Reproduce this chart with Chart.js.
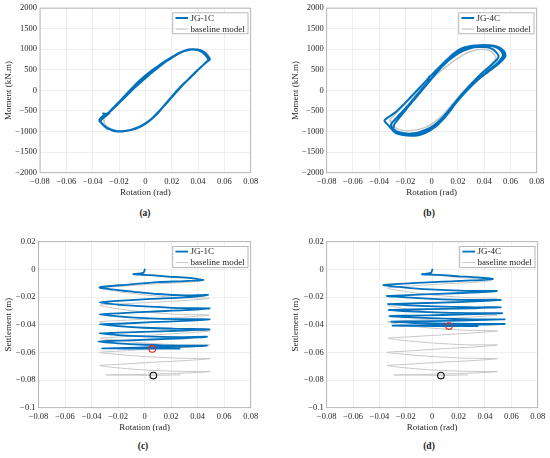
<!DOCTYPE html>
<html>
<head>
<meta charset="utf-8">
<script src="https://cdn.jsdelivr.net/npm/chart.js@4"></script>
<style>
  body { margin: 0; background: #fff; }
  #wrap { position: relative; width: 550px; height: 458px; overflow: hidden; }
  canvas { position: absolute; }
  .cap { position: absolute; font: bold 9.5px "Liberation Serif", serif; color: #222; transform: translate(-50%, -50%); }
</style>
</head>
<body>
<div id="wrap">
  <canvas id="pa" width="275" height="200" style="left:0;top:0"></canvas>
  <canvas id="pb" width="275" height="200" style="left:275px;top:0"></canvas>
  <canvas id="pc" width="275" height="210" style="left:0;top:225px"></canvas>
  <canvas id="pd" width="275" height="210" style="left:275px;top:225px"></canvas>
  <div class="cap" style="left:145px;top:213px">(a)</div>
  <div class="cap" style="left:429px;top:213px">(b)</div>
  <div class="cap" style="left:143px;top:446px">(c)</div>
  <div class="cap" style="left:429px;top:446px">(d)</div>
</div>
<script>
// tick values
const rotTicks = [-0.08, -0.06, -0.04, -0.02, 0, 0.02, 0.04, 0.06, 0.08];
const momentTicks = [-2000, -1500, -1000, -500, 0, 500, 1000, 1500, 2000];
const settleTicks = [-0.1, -0.08, -0.06, -0.04, -0.02, 0, 0.02];

// moment vs rotation, [rad, kN.m]
const jg1cMoment = [
  [-0.010,40],[-0.005,190],[0,330],[0.005,460],[0.010,580],[0.015,690],[0.020,790],[0.025,890],[0.030,960],[0.034,990],[0.038,985],[0.042,950],[0.045,880],[0.047,800],[0.048,740],
  [0.046,680],[0.042,560],[0.037,410],[0.032,250],[0.027,90],[0.022,-90],[0.017,-270],[0.012,-450],[0.007,-620],[0.002,-760],[-0.003,-860],[-0.008,-930],[-0.013,-975],[-0.018,-995],[-0.023,-985],[-0.027,-945],[-0.030,-900],[-0.029,-930],[-0.032,-840],[-0.034,-770],[-0.035,-720],[-0.033,-640],[-0.031,-600],[-0.032,-560],[-0.029,-570],
  [-0.025,-440],[-0.020,-280],[-0.015,-110],[-0.010,60],[-0.005,220],[0,360],[0.005,490],[0.010,600],[0.015,710],[0.020,810],[0.025,900],[0.030,965],[0.034,1000],[0.039,995],[0.043,960],[0.046,890],[0.048,810],[0.049,750],
  [0.047,700],[0.043,590],[0.038,440],[0.033,280],[0.028,120],[0.023,-60],[0.018,-240],[0.013,-420],[0.008,-600],[0.003,-740],[-0.002,-850],[-0.007,-925],[-0.012,-970],[-0.017,-995],[-0.022,-990],[-0.026,-955],[-0.030,-890],[-0.033,-800],[-0.035,-740],[-0.034,-680],[-0.031,-610],
  [-0.026,-490],[-0.021,-340],[-0.016,-180],[-0.011,-20],[-0.006,130],[-0.001,270],[0.004,410],[0.009,540],[0.014,670],[0.019,780],[0.024,880],[0.029,955],[0.033,995],[0.037,1000],[0.041,975],[0.045,905],[0.047,830],[0.048,770],
  [0.047,710],[0.044,620],[0.040,500],[0.035,340],[0.030,190],[0.025,30],[0.020,-150],[0.015,-340],[0.010,-520],[0.005,-680],[0,-800],[-0.005,-890],[-0.010,-950],[-0.015,-985],[-0.019,-1000],[-0.024,-985],[-0.028,-930],[-0.031,-860],[-0.034,-770],[-0.033,-700],[-0.030,-620],[-0.027,-540]
];

const jg4cMoment = [
  [-0.003,200],[-0.002,330],[0.002,420],
  [0.006,520],[0.012,700],[0.018,850],[0.024,960],[0.030,1030],[0.036,1055],[0.042,1050],[0.046,1010],[0.049,930],[0.051,840],[0.050,760],
  [0.047,660],[0.042,520],[0.037,380],[0.032,220],[0.027,50],[0.022,-130],[0.017,-320],[0.012,-520],[0.007,-700],[0.002,-840],[-0.004,-950],[-0.010,-1020],[-0.016,-1050],[-0.022,-1035],[-0.027,-990],[-0.030,-920],[-0.031,-840],[-0.030,-780],
  [-0.026,-640],[-0.021,-470],[-0.016,-290],[-0.011,-100],[-0.006,90],[-0.001,270],[0.004,440],[0.010,650],[0.016,830],[0.022,970],[0.028,1050],[0.035,1080],[0.042,1085],[0.048,1060],[0.052,990],[0.054,900],[0.054,820],
  [0.052,730],[0.048,600],[0.043,460],[0.038,330],[0.033,190],[0.028,30],[0.023,-140],[0.018,-330],[0.013,-540],[0.008,-730],[0.003,-880],[-0.003,-990],[-0.009,-1060],[-0.015,-1090],[-0.021,-1080],[-0.026,-1040],[-0.029,-970],[-0.029,-880],[-0.028,-800],
  [-0.024,-640],[-0.019,-440],[-0.014,-250],[-0.009,-60],[-0.004,130],[0.001,320],[0.006,520],[0.012,730],[0.018,900],[0.024,1020],[0.030,1080],[0.037,1100],[0.044,1095],[0.050,1060],[0.054,990],[0.056,900],[0.056,820],
  [0.054,740],[0.051,650],[0.046,520],[0.040,380],[0.035,260],[0.030,110],[0.025,-50],[0.020,-230],[0.015,-420],[0.010,-640],[0.005,-820],[0,-950],[-0.005,-1040],[-0.010,-1090],[-0.016,-1105],[-0.022,-1085],[-0.027,-1045],[-0.030,-960],[-0.033,-850],[-0.036,-730],
  [-0.033,-650],[-0.028,-540],[-0.022,-360],[-0.016,-160],[-0.010,40],[-0.003,280],[0.003,480],[0.010,700],[0.016,880],[0.022,1010],[0.028,1070],[0.035,1090],[0.042,1090],[0.048,1070],[0.053,1000],[0.055,920],[0.055,840],[0.053,760],
  [0.050,660],[0.045,530],[0.040,400],[0.035,270],[0.030,120],[0.025,-40],[0.020,-220],[0.015,-410],[0.010,-620],[0.005,-800],[0,-930],[-0.005,-1020],[-0.010,-1075],[-0.016,-1095],[-0.022,-1075],[-0.026,-1030],[-0.028,-960]
];

const baseMoment = [
  [-0.032,-720],[-0.026,-520],[-0.021,-360],[-0.016,-200],[-0.011,-40],[-0.006,110],[-0.001,250],[0.004,390],[0.009,520],[0.014,650],[0.019,760],[0.024,860],[0.029,935],[0.034,980],[0.039,1000],[0.043,980],[0.046,920],[0.048,850],[0.049,780],[0.048,730],
  [0.045,630],[0.040,480],[0.035,330],[0.030,170],[0.025,0],[0.020,-180],[0.015,-370],[0.010,-550],[0.005,-700],[0,-820],[-0.005,-900],[-0.010,-950],[-0.015,-975],[-0.020,-980],[-0.025,-950],[-0.029,-880],[-0.031,-790],[-0.032,-720],
  [-0.027,-540],[-0.022,-380],[-0.017,-220],[-0.012,-60],[-0.007,90],[-0.002,230],[0.003,370],[0.008,500],[0.013,630],[0.018,745],[0.023,850],[0.028,930],[0.033,975],[0.038,995],[0.042,985],[0.046,930],[0.048,860],[0.049,790],[0.048,740],
  [0.045,640],[0.040,490],[0.035,340],[0.030,180],[0.025,10],[0.020,-170],[0.015,-360],[0.010,-540],[0.005,-690],[0,-810],[-0.005,-895],[-0.010,-945],[-0.015,-970],[-0.020,-975],[-0.025,-945],[-0.029,-875],[-0.031,-785],[-0.031,-720]
];

// settlement vs rotation, [rad, m]
const jg1cSettle = [
  [0.0003,0.0003],[-0.001,-0.0025],[-0.0085,-0.0035],
  [0.005,-0.0042],[0.018,-0.0052],[0.032,-0.0060],[0.0443,-0.0077],
  [0.030,-0.0085],[0.010,-0.0092],[-0.012,-0.0110],[-0.034,-0.0130],
  [-0.020,-0.0150],[-0.008,-0.0162],[0.010,-0.0178],[0.030,-0.0188],[0.048,-0.0185],
  [0.030,-0.0203],[0.005,-0.0214],[-0.020,-0.0228],[-0.034,-0.0238],
  [-0.020,-0.0255],[0.000,-0.0268],[0.025,-0.0280],[0.049,-0.0282],
  [0.030,-0.0295],[0.005,-0.0305],[-0.020,-0.0318],[-0.034,-0.0325],
  [-0.020,-0.0340],[0.000,-0.0352],[0.025,-0.0360],[0.049,-0.0361],
  [0.030,-0.0372],[0.005,-0.0382],[-0.020,-0.0393],[-0.034,-0.0397],
  [-0.020,-0.0410],[0.000,-0.0422],[0.025,-0.0430],[0.049,-0.0433],
  [0.030,-0.0442],[0.005,-0.0450],[-0.020,-0.0458],[-0.034,-0.0462],
  [-0.020,-0.0475],[0.000,-0.0485],[0.025,-0.0490],[0.047,-0.0487],
  [0.030,-0.0498],[0.005,-0.0507],[-0.020,-0.0515],[-0.035,-0.0522],
  [-0.020,-0.0535],[0.000,-0.0545],[0.025,-0.0552],[0.047,-0.0551],
  [0.030,-0.0558],[0.005,-0.0563],[-0.015,-0.0568],[-0.032,-0.0571],
  [-0.015,-0.0572],[0.005,-0.0573],[0.027,-0.0572]
];

const jg4cSettle = [
  [0.0003,0.0003],[-0.001,-0.0025],[-0.0078,-0.0036],
  [0.005,-0.0040],[0.020,-0.0050],[0.034,-0.0058],[0.046,-0.0069],
  [0.030,-0.0080],[0.008,-0.0088],[-0.015,-0.0100],[-0.037,-0.0113],
  [-0.022,-0.0130],[-0.002,-0.0145],[0.025,-0.0155],[0.049,-0.0156],
  [0.030,-0.0168],[0.005,-0.0177],[-0.018,-0.0186],[-0.0345,-0.0192],
  [-0.020,-0.0203],[0.000,-0.0213],[0.027,-0.0221],[0.052,-0.0221],
  [0.032,-0.0232],[0.008,-0.0240],[-0.016,-0.0246],[-0.0335,-0.0250],
  [-0.018,-0.0260],[0.002,-0.0268],[0.028,-0.0274],[0.052,-0.0274],
  [0.032,-0.0281],[0.008,-0.0286],[-0.016,-0.0290],[-0.033,-0.0293],
  [-0.018,-0.0303],[0.002,-0.0311],[0.028,-0.0317],[0.053,-0.0317],
  [0.033,-0.0324],[0.008,-0.0330],[-0.016,-0.0334],[-0.0325,-0.0337],
  [-0.017,-0.0347],[0.004,-0.0355],[0.030,-0.0361],[0.055,-0.0361],
  [0.034,-0.0367],[0.010,-0.0372],[-0.014,-0.0376],[-0.031,-0.0378],
  [-0.016,-0.0386],[0.005,-0.0391],[0.030,-0.0395],[0.055,-0.0395],
  [0.034,-0.0400],[0.010,-0.0403],[-0.012,-0.0405],[-0.030,-0.0407],
  [-0.010,-0.0409],[0.013,-0.0410],[0.035,-0.0410]
];

const baseSettle = [
  [0.0003,0.0003],[-0.001,-0.0025],[-0.0085,-0.0035],
  [0.005,-0.0045],[0.020,-0.0058],[0.033,-0.0066],[0.045,-0.0080],
  [0.030,-0.0095],[0.008,-0.0105],[-0.015,-0.0120],[-0.034,-0.0135],
  [-0.020,-0.0160],[0.000,-0.0185],[0.025,-0.0203],[0.049,-0.0210],
  [0.030,-0.0225],[0.005,-0.0238],[-0.018,-0.0250],[-0.034,-0.0260],
  [-0.020,-0.0285],[0.000,-0.0308],[0.025,-0.0325],[0.049,-0.0330],
  [0.030,-0.0345],[0.005,-0.0358],[-0.018,-0.0370],[-0.034,-0.0380],
  [-0.020,-0.0405],[0.000,-0.0425],[0.025,-0.0440],[0.0495,-0.0445],
  [0.030,-0.0460],[0.005,-0.0475],[-0.018,-0.0488],[-0.0335,-0.0498],
  [-0.020,-0.0515],[0.000,-0.0532],[0.025,-0.0545],[0.0495,-0.0547],
  [0.030,-0.0562],[0.005,-0.0575],[-0.018,-0.0590],[-0.034,-0.0600],
  [-0.020,-0.0615],[0.000,-0.0630],[0.025,-0.0642],[0.0495,-0.0645],
  [0.030,-0.0660],[0.005,-0.0672],[-0.018,-0.0686],[-0.034,-0.0695],
  [-0.020,-0.0712],[0.000,-0.0727],[0.025,-0.0737],[0.0495,-0.0739],
  [0.030,-0.0750],[0.005,-0.0757],[-0.012,-0.0761],[-0.029,-0.0763],
  [-0.010,-0.0764],[0.006,-0.0766],[0.027,-0.0763]
];

// final state markers
const jg1cEnd = [[0.0058, -0.0575]];
const jg4cEnd = [[0.0127, -0.0410]];
const baseEnd = [[0.0066, -0.0768]];

const BLUE = '#0072BD';
const GRAY = '#c6c6c6';
const TEXT = '#262626';
const FRAME = '#a8a8a8';
const FONT = '"Liberation Serif", "Times New Roman", serif';

const toPts = arr => arr.map(([x, y]) => ({ x, y }));
const fmt = v => String(v).replace('-', '\u2212');

const boxLegend = {
  id: 'boxLegend',
  afterDraw: chart => {
    const { ctx, chartArea: a } = chart;
    ctx.save();
    ctx.strokeStyle = FRAME;
    ctx.lineWidth = 0.8;
    ctx.strokeRect(a.left, a.top, a.right - a.left, a.bottom - a.top);

    const items = chart.data.datasets.filter(d => d.label);
    ctx.font = '9px ' + FONT;
    const textW = Math.max(...items.map(d => ctx.measureText(d.label).width));
    const w = 17.7 + textW + 3.3;
    const h = 21;
    const x0 = a.right - 2.7 - w;
    const y0 = a.top + 4.7;
    ctx.fillStyle = '#fff';
    ctx.fillRect(x0, y0, w, h);
    ctx.strokeRect(x0, y0, w, h);
    items.forEach((d, i) => {
      const y = y0 + 5.2 + i * 11;
      ctx.beginPath();
      ctx.moveTo(x0 + 2.7, y);
      ctx.lineTo(x0 + 15.3, y);
      ctx.strokeStyle = d.borderColor;
      ctx.lineWidth = d.borderWidth;
      ctx.stroke();
      ctx.fillStyle = TEXT;
      ctx.textBaseline = 'middle';
      ctx.textAlign = 'left';
      ctx.fillText(d.label, x0 + 17.7, y + 0.5);
    });
    ctx.restore();
  },
};

const lineSet = (label, data, color, width) => ({
  label, data: toPts(data), showLine: true, borderColor: color, borderWidth: width,
  pointRadius: 0, tension: 0.25, fill: false,
});

const markSet = (data, color) => ({
  data: toPts(data), showLine: false, pointRadius: 3.3, pointBorderWidth: 1.1,
  pointBorderColor: color, pointBackgroundColor: 'rgba(0,0,0,0)', order: -1,
});

const renderPanel = (id, p) => {
  const tickFont = { family: FONT, size: 8.5 };
  const titleFont = { family: FONT, size: 9 };
  const grid = { color: '#ebebeb', lineWidth: 0.8, drawTicks: false };
  new Chart(document.getElementById(id), {
    type: 'scatter',
    data: { datasets: p.datasets },
    options: {
      responsive: false,
      animation: false,
      layout: { padding: { left: 0, top: p.padTop, right: p.padRight, bottom: 0 } },
      plugins: { legend: { display: false }, tooltip: { enabled: false } },
      scales: {
        x: {
          type: 'linear', min: -0.08, max: 0.08,
          afterBuildTicks: s => { s.ticks = rotTicks.map(v => ({ value: v })); },
          afterFit: s => { s.height = 27.3; },
          grid, border: { display: false },
          ticks: { padding: 4, font: tickFont, color: TEXT, autoSkip: false, maxRotation: 0, callback: fmt },
          title: { display: true, text: 'Rotation (rad)', font: titleFont, color: TEXT, padding: { top: 0, bottom: p.xTitlePad } },
        },
        y: {
          type: 'linear', min: p.yMin, max: p.yMax,
          afterBuildTicks: s => { s.ticks = p.yTicks.map(v => ({ value: v })); },
          afterFit: s => { s.width = p.yW; },
          grid, border: { display: false },
          ticks: { padding: 3, font: tickFont, color: TEXT, autoSkip: false, callback: fmt },
          title: { display: true, text: p.yTitle, font: titleFont, color: TEXT, padding: { top: p.yTitlePad, bottom: 0 } },
        },
      },
    },
    plugins: [boxLegend],
  });
};

renderPanel('pa', {
  padTop: 7.3, padRight: 24.3, yW: 40, yTitlePad: 3, xTitlePad: 1.6,
  yMin: -2000, yMax: 2000, yTicks: momentTicks, yTitle: 'Moment (kN.m)',
  datasets: [lineSet('JG-1C', jg1cMoment, BLUE, 2), lineSet('baseline model', baseMoment, GRAY, 1.2)],
});
renderPanel('pb', {
  padTop: 7.3, padRight: 13.3, yW: 51.7, yTitlePad: 15.3, xTitlePad: 1.6,
  yMin: -2000, yMax: 2000, yTicks: momentTicks, yTitle: 'Moment (kN.m)',
  datasets: [lineSet('JG-4C', jg4cMoment, BLUE, 2), lineSet('baseline model', baseMoment, GRAY, 1.2)],
});
renderPanel('pc', {
  padTop: 16.7, padRight: 24.3, yW: 38.5, yTitlePad: 3, xTitlePad: 1.9,
  yMin: -0.1, yMax: 0.02, yTicks: settleTicks, yTitle: 'Settlement (m)',
  datasets: [lineSet('JG-1C', jg1cSettle, BLUE, 1.8), lineSet('baseline model', baseSettle, GRAY, 1),
    markSet(jg1cEnd, '#e8262a'), markSet(baseEnd, '#111')],
});
renderPanel('pd', {
  padTop: 16.7, padRight: 12.3, yW: 51.7, yTitlePad: 15.3, xTitlePad: 1.9,
  yMin: -0.1, yMax: 0.02, yTicks: settleTicks, yTitle: 'Settlement (m)',
  datasets: [lineSet('JG-4C', jg4cSettle, BLUE, 1.8), lineSet('baseline model', baseSettle, GRAY, 1),
    markSet(jg4cEnd, '#e8262a'), markSet(baseEnd, '#111')],
});
</script>
</body>
</html>
